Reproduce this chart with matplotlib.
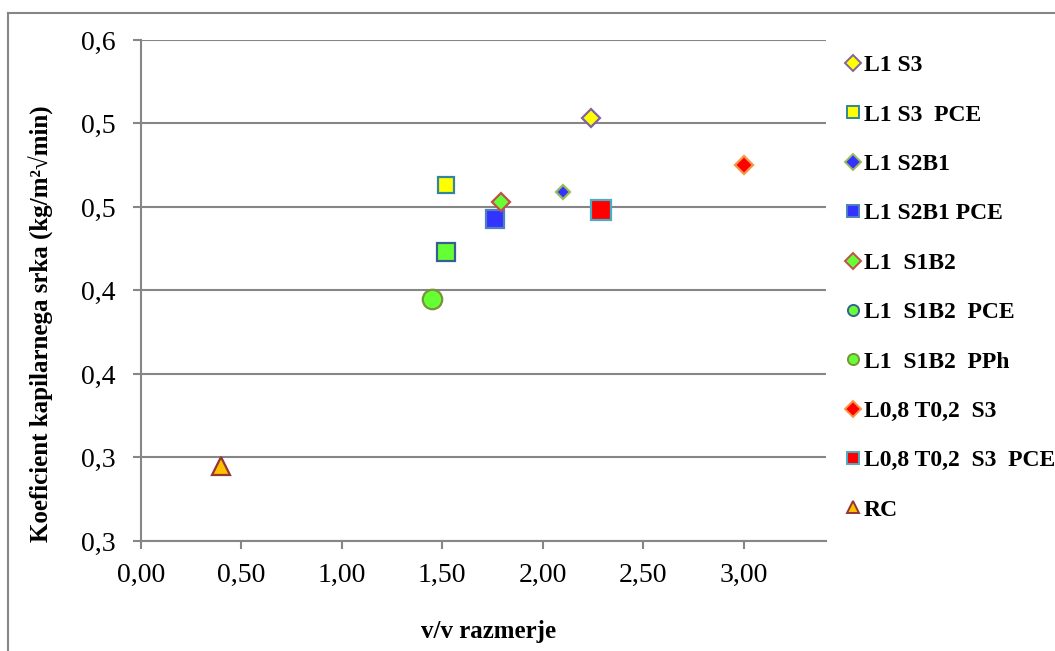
import matplotlib.pyplot as plt
from matplotlib.lines import Line2D

plt.rcParams['font.family'] = ['Liberation Serif', 'DejaVu Serif']

# series data
labels = ['L1 S3', 'L1 S3  PCE', 'L1 S2B1', 'L1 S2B1 PCE', 'L1  S1B2',
          'L1  S1B2  PCE', 'L1  S1B2  PPh', 'L0,8 T0,2  S3', 'L0,8 T0,2  S3  PCE', 'RC']
x_vals = [2.24, 1.52, 2.10, 1.76, 1.79, 1.52, 1.45, 3.00, 2.29, 0.40]
y_vals = [0.553, 0.513, 0.509, 0.493, 0.503, 0.473, 0.445, 0.525, 0.498, 0.345]

y_ticks = [0.30, 0.35, 0.40, 0.45, 0.50, 0.55, 0.60]
y_tick_labels = ['0,3', '0,3', '0,4', '0,4', '0,5', '0,5', '0,6']
x_ticks = [0.0, 0.5, 1.0, 1.5, 2.0, 2.5, 3.0]
x_tick_labels = ['0,00', '0,50', '1,00', '1,50', '2,00', '2,50', '3,00']

# marker styles: (marker, size, face, edge, legend marker)
styles = [
    ('D', 9.5, '#FFFF00', '#8064A2', 'D'),
    ('s', 11, '#FFFF00', '#31859C', 's'),
    ('D', 7.5, '#3333FF', '#9BBB59', 'D'),
    ('s', 13, '#3333FF', '#4F81BD', 's'),
    ('D', 9, '#66FF33', '#C0504D', 'D'),
    ('s', 13, '#66FF33', '#376092', 'o'),
    ('o', 14, '#66FF33', '#77933C', 'o'),
    ('D', 9.5, '#FF0000', '#F79646', 'D'),
    ('s', 14, '#FF0000', '#4BACC6', 's'),
    ('^', 13, '#FFC000', '#943634', '^'),
]

grey = '#868686'

fig = plt.figure(figsize=(10.55, 6.51), dpi=100)
ax = fig.add_axes([0.1336, 0.169, 0.6494, 0.7696])

handles = []
for lab, xv, yv, (m, ms, fc, ec, lm) in zip(labels, x_vals, y_vals, styles):
    ax.plot([xv], [yv], linestyle='none', marker=m, markersize=ms,
            markerfacecolor=fc, markeredgecolor=ec, markeredgewidth=1.6, zorder=3)
    handles.append(Line2D([], [], linestyle='none', marker=lm, markersize=8,
                          markerfacecolor=fc, markeredgecolor=ec, markeredgewidth=1.4,
                          label=lab))

ax.set_xlim(0, 3.41)
ax.set_ylim(0.30, 0.60)
ax.set_xticks(x_ticks)
ax.set_xticklabels(x_tick_labels)
ax.set_yticks(y_ticks)
ax.set_yticklabels(y_tick_labels)
ax.tick_params(axis='both', labelsize=20, color=grey, length=6, width=1.5)
ax.tick_params(axis='x', pad=10)
ax.tick_params(axis='y', pad=12)
ax.grid(axis='y', color=grey, linewidth=1.5)
ax.set_axisbelow(True)
for s in ['top', 'right']:
    ax.spines[s].set_visible(False)
for s in ['left', 'bottom']:
    ax.spines[s].set_color(grey)
    ax.spines[s].set_linewidth(1.5)

ax.set_xlabel('v/v razmerje', fontsize=18, fontweight='bold')
ax.set_ylabel('Koeficient kapilarnega srka (kg/m²√min)', fontsize=18, fontweight='bold')
ax.xaxis.set_label_coords(0.508, -0.158)
ax.yaxis.set_label_coords(-0.127, 0.433)

fig.legend(handles=handles, loc='upper left', bbox_to_anchor=(0.803, 0.916),
           frameon=False, prop={'size': 17, 'weight': 'bold'},
           handlelength=0.5, handletextpad=0.2, labelspacing=1.18,
           borderaxespad=0, borderpad=0)

# outer chart border (top and left visible)
fig.add_artist(Line2D([8 / 1055, 8 / 1055], [0, 1 - 13 / 651], color=grey, linewidth=1.5))
fig.add_artist(Line2D([8 / 1055, 1], [1 - 13 / 651, 1 - 13 / 651], color=grey, linewidth=1.5))

fig.savefig('out.png', dpi=100)
